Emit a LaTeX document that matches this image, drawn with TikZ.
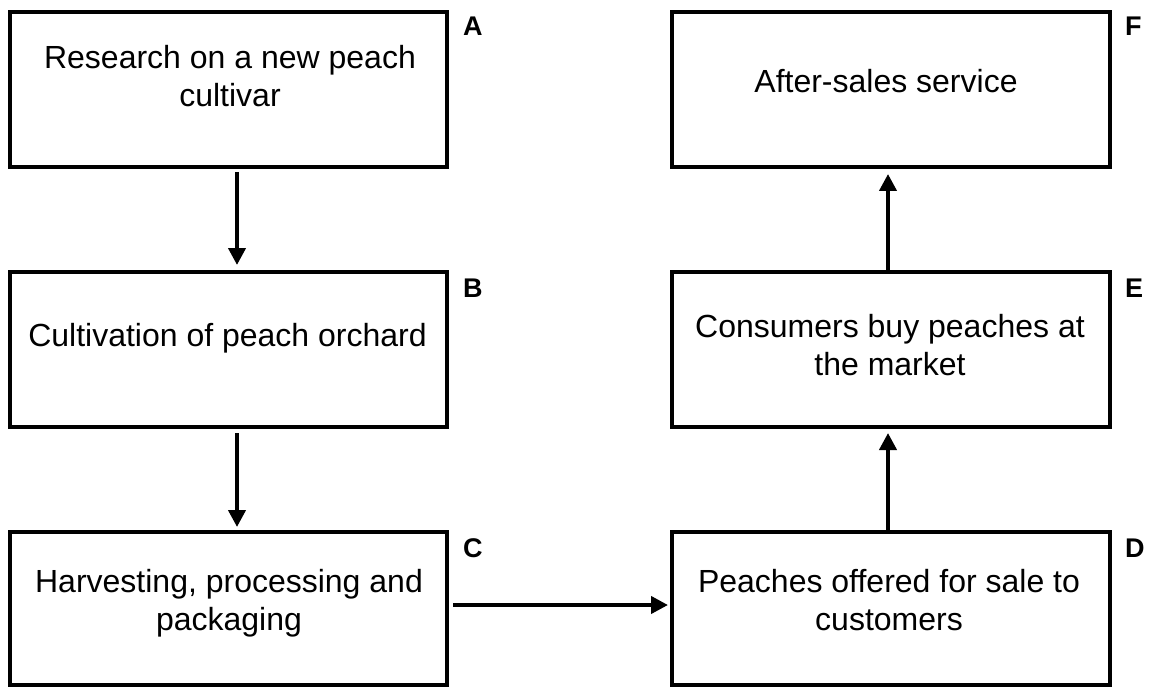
\documentclass[tikz,border=0pt]{standalone}
\usepackage{fontspec}
\setmainfont{Liberation Sans}
\usetikzlibrary{arrows.meta}
\begin{document}
\begin{tikzpicture}[x=1pt,y=-1pt,
  box/.style={draw=black,line width=4pt,minimum width=437pt,minimum height=155pt,inner sep=0pt},
  txt/.style={anchor=north,inner sep=0pt,align=center,font=\fontsize{32}{38}\selectfont},
  lab/.style={anchor=base west,inner sep=0pt,font=\fontsize{27}{30}\selectfont\bfseries},
  arr/.style={line width=4pt,-{Triangle[width=17pt,length=17pt]}}]
\useasboundingbox (0,0) rectangle (1151,687);
% boxes
\node[box] (A) at (228.5,89.5) {};
\node[box] (B) at (228.5,349.5) {};
\node[box,minimum height=153pt] (C) at (228.5,608.5) {};
\node[box,minimum height=153pt,minimum width=438pt] (D) at (891,608.5) {};
\node[box,minimum width=438pt] (E) at (891,349.5) {};
\node[box,minimum width=438pt] (F) at (891,89.5) {};
% texts
\node[txt] (At) at (230,45) {Research on a new peach\\cultivar};
\node[txt] (Bt) at (227.5,323) {Cultivation of peach orchard};
\node[txt] (Ct) at (229,569) {Harvesting, processing and\\packaging};
\node[txt] (Dt) at (889,569) {Peaches offered for sale to\\customers};
\node[txt] (Et) at (890,314) {Consumers buy peaches at\\the market};
\node[txt] (Ft) at (886,69) {After-sales service};
% letters
\node[lab] (la) at (463,36) {A};
\node[lab] (lb) at (463,297) {B};
\node[lab] (lc) at (463,557) {C};
\node[lab] (ld) at (1125,557) {D};
\node[lab] (le) at (1125,297) {E};
\node[lab] (lf) at (1125,36) {F};
% arrows
\draw[arr,shorten <=3pt,shorten >=5pt] ([xshift=8.5pt]A.south) -- ([xshift=8.5pt]B.north);
\draw[arr,shorten <=4pt,shorten >=3pt] ([xshift=8.5pt]B.south) -- ([xshift=8.5pt]C.north);
\draw[arr,shorten <=4pt,shorten >=2pt] ([yshift=3.5pt]C.east) -- ([yshift=3.5pt]D.west);
\draw[arr,shorten >=4pt] ([xshift=-3pt]D.north) -- ([xshift=-3pt]E.south);
\draw[arr,shorten >=5pt] ([xshift=-3pt]E.north) -- ([xshift=-3pt]F.south);
\end{tikzpicture}
\end{document}
